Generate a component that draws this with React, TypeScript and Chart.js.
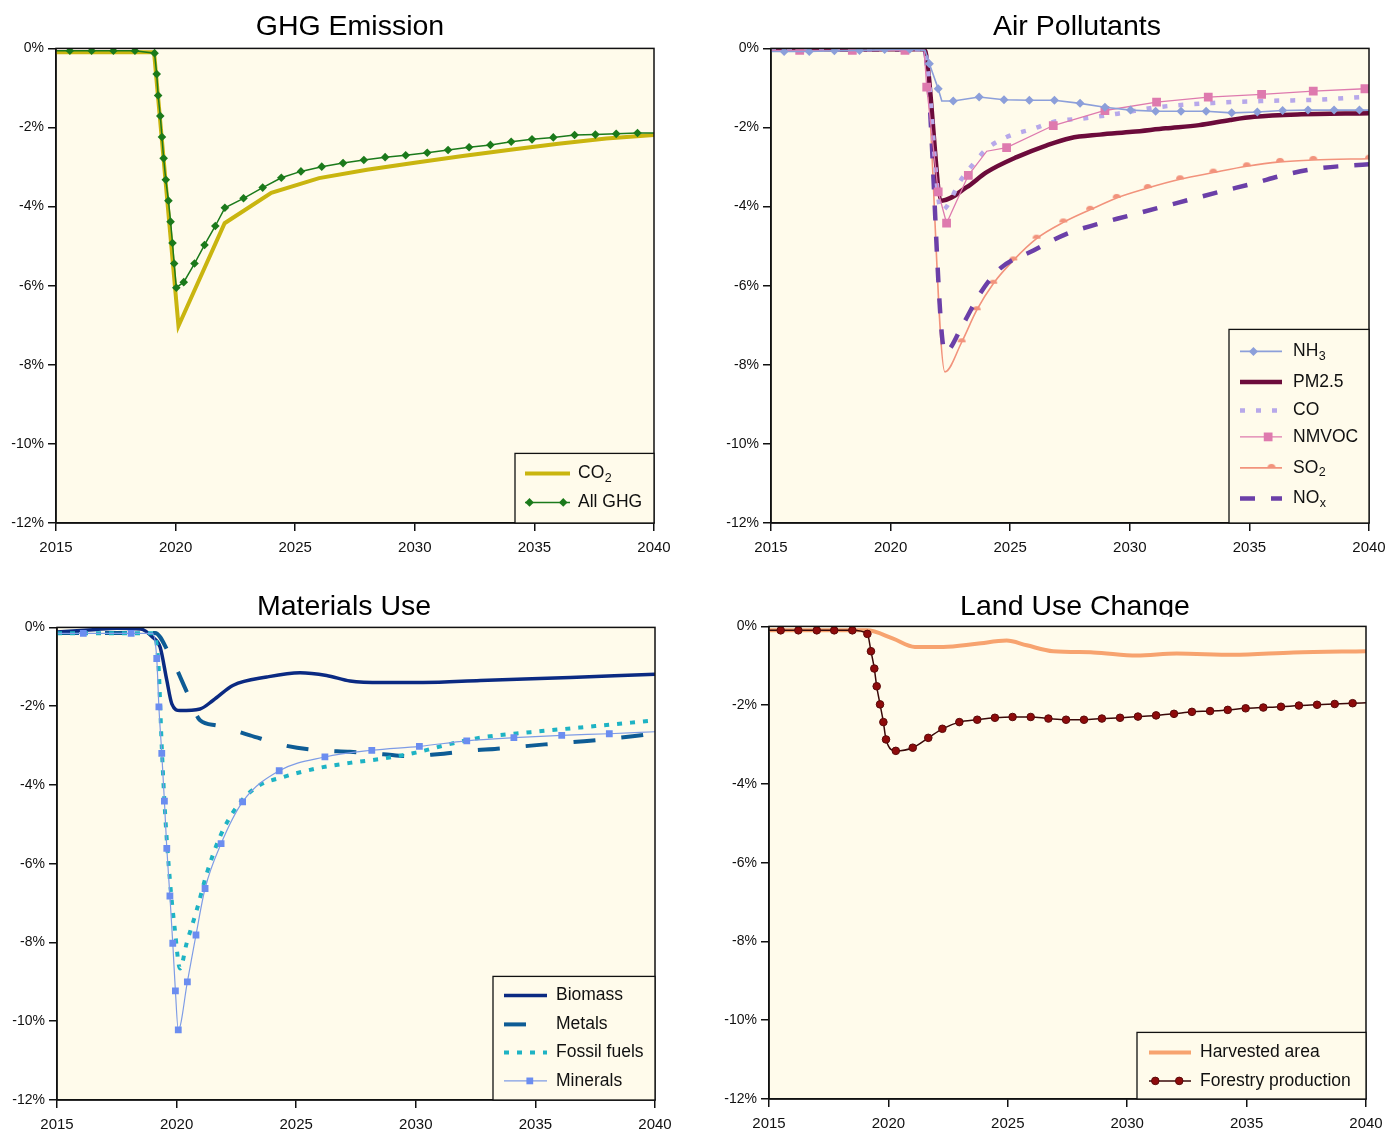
import React, { useEffect, useRef } from 'react';
import { Chart, registerables } from 'chart.js';
Chart.register(...registerables);

const FONT = '"Liberation Sans", Arial, Helvetica, sans-serif';
const CREAM = '#FFFBEB';

// ---------------- GHG Emission ----------------
const co2Years = [2015, 2019.1, 2020.12, 2022.05, 2024.0, 2026.0, 2028.0, 2030.0, 2032.0, 2034.0, 2036.0, 2038.0, 2040.0];
const co2Vals = [-0.1, -0.1, -7.02, -4.42, -3.65, -3.28, -3.07, -2.89, -2.72, -2.56, -2.41, -2.28, -2.19];
const ghgYears = [2015, 2015.58, 2016.49, 2017.4, 2018.3, 2019.12, 2019.21, 2019.27, 2019.36, 2019.43, 2019.5, 2019.59, 2019.7, 2019.79, 2019.87, 2019.94, 2020.03, 2020.34, 2020.79, 2021.21, 2021.66, 2022.06, 2022.84, 2023.64, 2024.42, 2025.24, 2026.11, 2027.0, 2027.87, 2028.76, 2029.62, 2030.52, 2031.39, 2032.27, 2033.16, 2034.03, 2034.9, 2035.79, 2036.68, 2037.55, 2038.42, 2039.31, 2040];
const ghgVals = [-0.06, -0.06, -0.06, -0.06, -0.06, -0.12, -0.65, -1.19, -1.71, -2.24, -2.78, -3.32, -3.85, -4.38, -4.92, -5.44, -6.05, -5.91, -5.44, -4.97, -4.49, -4.03, -3.79, -3.52, -3.27, -3.11, -2.99, -2.9, -2.82, -2.75, -2.7, -2.64, -2.57, -2.5, -2.44, -2.36, -2.3, -2.25, -2.19, -2.18, -2.16, -2.14, -2.14];

// ---------------- Air Pollutants ----------------
const nh3Years = [2015, 2015.55, 2016.6, 2017.65, 2018.7, 2019.75, 2020.8, 2021.44, 2021.62, 2021.99, 2022.14, 2022.62, 2023.7, 2024.74, 2025.8, 2026.85, 2027.92, 2028.96, 2030.03, 2031.08, 2032.14, 2033.19, 2034.26, 2035.33, 2036.39, 2037.45, 2038.54, 2039.6, 2040];
const nh3Vals = [-0.08, -0.08, -0.08, -0.06, -0.05, -0.03, -0.02, -0.05, -0.39, -1.02, -1.33, -1.33, -1.23, -1.3, -1.31, -1.31, -1.39, -1.49, -1.56, -1.59, -1.59, -1.59, -1.63, -1.61, -1.57, -1.56, -1.56, -1.56, -1.56];
const pmYears = [2015, 2021.4, 2022.14, 2023.18, 2024.02, 2025.27, 2026.53, 2027.5, 2028.75, 2030.1, 2031.5, 2032.9, 2034.2, 2035.2, 2037.0, 2040];
const pmVals = [-0.02, -0.02, -3.85, -3.51, -3.13, -2.75, -2.45, -2.27, -2.18, -2.11, -2.02, -1.94, -1.81, -1.73, -1.67, -1.64];
const coYears = [2015, 2021.4, 2022.12, 2022.97, 2023.53, 2024.02, 2024.85, 2025.97, 2026.8, 2028.2, 2029.5, 2031.26, 2033.49, 2035.58, 2037.67, 2040];
const coVals = [-0.02, -0.02, -4.1, -3.3, -2.87, -2.54, -2.24, -2.03, -1.86, -1.76, -1.65, -1.48, -1.38, -1.33, -1.3, -1.22];
const nmvocYears = [2015, 2016.2, 2018.4, 2020.6, 2021.4, 2021.51, 2021.99, 2022.34, 2023.25, 2024.02, 2024.85, 2026.8, 2028.96, 2031.12, 2033.28, 2035.51, 2037.67, 2039.83];
const nmvocVals = [-0.05, -0.05, -0.05, -0.05, -0.02, -0.98, -3.63, -4.42, -3.21, -2.6, -2.51, -1.95, -1.57, -1.36, -1.23, -1.16, -1.08, -1.02];
const so2Years = [2015, 2021.4, 2022.27, 2022.97, 2023.6, 2024.29, 2025.13, 2026.1, 2027.22, 2028.34, 2029.45, 2030.75, 2032.1, 2033.49, 2034.89, 2036.28, 2037.67, 2040];
const so2Vals = [-0.02, -0.02, -8.18, -7.43, -6.62, -5.95, -5.36, -4.81, -4.4, -4.08, -3.78, -3.53, -3.31, -3.14, -2.98, -2.87, -2.82, -2.79];
const noxYears = [2015, 2021.4, 2022.27, 2023.04, 2023.74, 2024.57, 2025.97, 2027.36, 2028.6, 2029.9, 2031.2, 2032.6, 2033.8, 2035.2, 2036.4, 2037.8, 2040];
const noxVals = [-0.02, -0.02, -7.68, -6.96, -6.2, -5.57, -5.11, -4.69, -4.45, -4.24, -4.03, -3.81, -3.62, -3.41, -3.21, -3.04, -2.93];

// ---------------- Materials Use ----------------
const bioYears = [2015, 2016.5, 2017.5, 2018.5, 2019.0, 2019.31, 2019.59, 2019.8, 2020.14, 2020.98, 2021.53, 2022.37, 2023.77, 2025.16, 2026.27, 2027.25, 2028.6, 2030.3, 2032.7, 2035.5, 2038.3, 2040];
const bioVals = [-0.12, -0.06, -0.02, -0.04, -0.25, -0.5, -1.34, -1.94, -2.11, -2.07, -1.85, -1.47, -1.26, -1.15, -1.22, -1.36, -1.4, -1.4, -1.35, -1.29, -1.23, -1.19];
const metYears = [2015, 2019.1, 2019.66, 2020.49, 2020.98, 2021.68, 2023.07, 2024.46, 2025.86, 2027.25, 2028.64, 2029.7, 2030.9, 2032.3, 2033.4, 2035.4, 2037.4, 2039.5, 2040];
const metVals = [-0.14, -0.14, -0.63, -1.72, -2.36, -2.49, -2.74, -2.99, -3.12, -3.16, -3.22, -3.27, -3.22, -3.13, -3.08, -2.97, -2.87, -2.73, -2.68];
const fosYears = [2015, 2019.0, 2019.24, 2019.38, 2019.52, 2019.72, 2019.93, 2020.14, 2020.42, 2020.84, 2021.26, 2021.81, 2022.51, 2023.35, 2024.46, 2025.86, 2027.25, 2028.64, 2030.0, 2031.5, 2032.7, 2034.8, 2036.9, 2040];
const fosVals = [-0.15, -0.15, -0.92, -3.04, -4.73, -6.42, -7.69, -8.66, -8.02, -7.18, -6.25, -5.32, -4.56, -4.05, -3.8, -3.58, -3.44, -3.33, -3.18, -2.95, -2.8, -2.66, -2.54, -2.36];
const minYears = [2015, 2016.1, 2018.1, 2019.0, 2019.17, 2019.26, 2019.38, 2019.49, 2019.59, 2019.72, 2019.84, 2019.95, 2020.07, 2020.45, 2020.81, 2021.19, 2021.86, 2022.76, 2024.29, 2026.2, 2028.16, 2030.15, 2032.13, 2034.1, 2036.1, 2038.09, 2040];
const minVals = [-0.15, -0.15, -0.15, -0.15, -0.79, -2.02, -3.2, -4.41, -5.61, -6.82, -8.02, -9.23, -10.22, -9.0, -7.81, -6.63, -5.49, -4.43, -3.64, -3.29, -3.12, -3.02, -2.88, -2.8, -2.74, -2.7, -2.65];

// ---------------- Land Use Change ----------------
const harvYears = [2015, 2019.09, 2020.2, 2021.11, 2022.3, 2023.7, 2024.95, 2025.79, 2026.9, 2028.58, 2030.4, 2032.07, 2034.44, 2036.96, 2040];
const harvVals = [-0.1, -0.1, -0.31, -0.52, -0.52, -0.44, -0.36, -0.48, -0.63, -0.66, -0.74, -0.69, -0.72, -0.66, -0.63];
const forYears = [2015, 2015.49, 2016.23, 2017.0, 2017.73, 2018.49, 2019.12, 2019.27, 2019.41, 2019.51, 2019.65, 2019.79, 2019.9, 2020.31, 2021.02, 2021.67, 2022.26, 2022.97, 2023.72, 2024.46, 2025.2, 2025.96, 2026.7, 2027.44, 2028.19, 2028.94, 2029.7, 2030.45, 2031.21, 2031.96, 2032.71, 2033.47, 2034.21, 2034.96, 2035.7, 2036.44, 2037.19, 2037.95, 2038.69, 2039.44, 2040];
const forVals = [-0.1, -0.1, -0.1, -0.1, -0.1, -0.1, -0.19, -0.63, -1.07, -1.52, -1.98, -2.43, -2.87, -3.16, -3.08, -2.83, -2.6, -2.43, -2.37, -2.32, -2.3, -2.3, -2.34, -2.37, -2.37, -2.34, -2.32, -2.29, -2.26, -2.22, -2.17, -2.15, -2.12, -2.08, -2.06, -2.04, -2.01, -1.99, -1.97, -1.95, -1.94];

const yTicks = [-12, -10, -8, -6, -4, -2, 0];
const xTicks = [2015, 2020, 2025, 2030, 2035, 2040];

// ---------------- helpers ----------------
const pts = (xs: number[], ys: number[]) => xs.map((x, i) => ({ x, y: ys[i] }));
const hide = (r: number, hidden: number[]) => (ctx: any) => {
  const n = ctx.dataset.data.length;
  const i = ctx.dataIndex;
  return hidden.some((h) => (h < 0 ? n + h : h) === i) ? 0 : r;
};

function semicircle(color: string, r: number) {
  const c = document.createElement('canvas');
  c.width = 2 * r + 2;
  c.height = 2 * r + 2;
  const g = c.getContext('2d')!;
  g.fillStyle = color;
  g.beginPath();
  g.arc(r + 1, r + 1, r, Math.PI, 2 * Math.PI);
  g.closePath();
  g.fill();
  return c;
}

const SO2C = '#F2937C';
const so2Mark = semicircle(SO2C, 4);

type LegendItem = { ds: number; text: string; sub?: string; marks?: number[]; mr?: number };
type PanelSpec = {
  title: string; titleX: number; titleY: number; titleClip?: number;
  L: number; T: number; R: number; B: number;
  datasets: any[];
  legend: { left: number; top: number; rows: number[]; sx0: number; sx1: number; tx: number; items: LegendItem[] };
};

function drawMarker(ctx: CanvasRenderingContext2D, style: any, x: number, y: number, r: number, fill: string, stroke: string, bw: number) {
  ctx.save();
  ctx.setLineDash([]);
  if (style instanceof HTMLCanvasElement) {
    ctx.drawImage(style, x - style.width / 2, y - style.height / 2);
    ctx.restore();
    return;
  }
  ctx.fillStyle = fill;
  ctx.strokeStyle = stroke;
  ctx.lineWidth = bw;
  ctx.beginPath();
  if (style === 'rectRot') {
    ctx.moveTo(x - r, y); ctx.lineTo(x, y - r); ctx.lineTo(x + r, y); ctx.lineTo(x, y + r); ctx.closePath();
  } else if (style === 'rect') {
    const s = r * Math.SQRT1_2;
    ctx.rect(x - s, y - s, 2 * s, 2 * s);
  } else {
    ctx.arc(x, y, r, 0, Math.PI * 2);
  }
  ctx.fill();
  if (bw > 0) ctx.stroke();
  ctx.restore();
}

const framePlugin = (spec: PanelSpec) => ({
  id: 'frameLegend',
  beforeDraw(chart: any) {
    const { ctx, chartArea: a } = chart;
    ctx.save();
    ctx.fillStyle = CREAM;
    ctx.fillRect(a.left, a.top, a.right - a.left, a.bottom - a.top);
    ctx.restore();
  },
  afterDraw(chart: any) {
    const { ctx, chartArea: a } = chart;
    const ox = a.left - spec.L;
    const oy = a.top - spec.T;
    ctx.save();
    ctx.strokeStyle = '#111';
    ctx.lineWidth = 1.5;
    ctx.strokeRect(a.left, a.top, a.right - a.left, a.bottom - a.top);
    const lg = spec.legend;
    const bx = lg.left + ox, by = lg.top + oy;
    ctx.fillStyle = CREAM;
    ctx.fillRect(bx, by, a.right - bx, a.bottom - by);
    ctx.lineWidth = 1.3;
    ctx.strokeRect(bx, by, a.right - bx, a.bottom - by);
    lg.items.forEach((it, k) => {
      const ds = chart.data.datasets[it.ds];
      const y = lg.rows[k] + oy;
      const x0 = lg.sx0 + ox, x1 = lg.sx1 + ox;
      ctx.save();
      ctx.strokeStyle = ds.borderColor;
      ctx.lineWidth = ds.borderWidth;
      ctx.setLineDash(ds.borderDash || []);
      ctx.lineCap = ds.borderCapStyle || 'butt';
      ctx.beginPath();
      ctx.moveTo(x0, y);
      ctx.lineTo(x1, y);
      ctx.stroke();
      ctx.restore();
      (it.marks || []).forEach((f) => {
        drawMarker(ctx, ds.pointStyle, x0 + (x1 - x0) * f, y, it.mr || 4, ds.pointBackgroundColor, ds.pointBorderColor, ds.pointBorderWidth || 0);
      });
      ctx.fillStyle = '#111';
      ctx.textBaseline = 'middle';
      ctx.textAlign = 'left';
      ctx.font = `17.5px ${FONT}`;
      const tx = lg.tx + ox;
      ctx.fillText(it.text, tx, y);
      if (it.sub) {
        const w = ctx.measureText(it.text).width;
        ctx.font = `12.5px ${FONT}`;
        ctx.fillText(it.sub, tx + w + 0.5, y + 5);
      }
    });
    ctx.restore();
  },
});

// ---------------- panel specs ----------------
const panels: PanelSpec[] = [
  {
    title: 'GHG Emission', titleX: 350, titleY: 25,
    L: 56, T: 48, R: 654, B: 523,
    datasets: [
      { label: 'All GHG', data: pts(ghgYears, ghgVals), borderColor: '#1B7A1B', borderWidth: 1.5, pointStyle: 'rectRot', pointRadius: hide(4.3, [0, -1]), pointBackgroundColor: '#1B7A1B', pointBorderColor: '#1B7A1B', pointBorderWidth: 0, order: 1 },
      { label: 'CO2', data: pts(co2Years, co2Vals), borderColor: '#C9B50F', borderWidth: 4, pointRadius: 0, order: 2 },
    ],
    legend: {
      left: 515, top: 453, rows: [473, 502], sx0: 525, sx1: 570, tx: 578,
      items: [
        { ds: 1, text: 'CO', sub: '2' },
        { ds: 0, text: 'All GHG', marks: [0.1, 0.85], mr: 4.3 },
      ],
    },
  },
  {
    title: 'Air Pollutants', titleX: 1077, titleY: 25,
    L: 771, T: 48, R: 1369, B: 523,
    datasets: [
      { label: 'NH3', data: pts(nh3Years, nh3Vals), borderColor: '#8C9FDA', borderWidth: 1.6, pointStyle: 'rectRot', pointRadius: hide(4.5, [0, 7, 10, -1]), pointBackgroundColor: '#8C9FDA', pointBorderColor: '#8C9FDA', pointBorderWidth: 0, order: 1 },
      { label: 'PM2.5', data: pts(pmYears, pmVals), borderColor: '#6C0B3B', borderWidth: 4.5, pointRadius: 0, cubicInterpolationMode: 'monotone', order: 4 },
      { label: 'CO', data: pts(coYears, coVals), borderColor: '#B7A8EA', borderWidth: 4.5, borderDash: [5, 11], pointRadius: 0, cubicInterpolationMode: 'monotone', order: 3 },
      { label: 'NMVOC', data: pts(nmvocYears, nmvocVals), borderColor: '#DE7AAE', borderWidth: 1.3, pointStyle: 'rect', pointRadius: hide(6.2, [0, 4, 9]), pointBackgroundColor: '#DE7AAE', pointBorderColor: '#DE7AAE', pointBorderWidth: 0, order: 2 },
      { label: 'SO2', data: pts(so2Years, so2Vals), borderColor: SO2C, borderWidth: 1.6, pointStyle: so2Mark, pointRadius: hide(4, [0, 1, 2]), pointBackgroundColor: SO2C, pointBorderColor: SO2C, cubicInterpolationMode: 'monotone', order: 6 },
      { label: 'NOx', data: pts(noxYears, noxVals), borderColor: '#6B3FA8', borderWidth: 4.5, borderDash: [15, 16], pointRadius: 0, cubicInterpolationMode: 'monotone', order: 5 },
    ],
    legend: {
      left: 1229, top: 329, rows: [351, 381.5, 410, 436.5, 467.5, 498], sx0: 1240, sx1: 1282, tx: 1293,
      items: [
        { ds: 0, text: 'NH', sub: '3', marks: [0.32], mr: 4.5 },
        { ds: 1, text: 'PM2.5' },
        { ds: 2, text: 'CO' },
        { ds: 3, text: 'NMVOC', marks: [0.67], mr: 6.2 },
        { ds: 4, text: 'SO', sub: '2', marks: [0.75] },
        { ds: 5, text: 'NO', sub: 'x' },
      ],
    },
  },
  {
    title: 'Materials Use', titleX: 344, titleY: 604.5,
    L: 57, T: 627, R: 655, B: 1100,
    datasets: [
      { label: 'Biomass', data: pts(bioYears, bioVals), borderColor: '#0B2A82', borderWidth: 3.5, pointRadius: 0, cubicInterpolationMode: 'monotone', order: 3 },
      { label: 'Metals', data: pts(metYears, metVals), borderColor: '#0E5C95', borderWidth: 4, borderDash: [22, 26], pointRadius: 0, cubicInterpolationMode: 'monotone', order: 4 },
      { label: 'Fossil fuels', data: pts(fosYears, fosVals), borderColor: '#1EB3C4', borderWidth: 4, borderDash: [5, 8], pointRadius: 0, cubicInterpolationMode: 'monotone', order: 2 },
      { label: 'Minerals', data: pts(minYears, minVals), borderColor: '#7E9CE6', borderWidth: 1.2, pointStyle: 'rect', pointRadius: hide(4.8, [0, 3, -1]), pointBackgroundColor: '#6B8DF0', pointBorderColor: '#6B8DF0', pointBorderWidth: 0, cubicInterpolationMode: 'monotone', order: 1 },
    ],
    legend: {
      left: 493, top: 976, rows: [995, 1024, 1052, 1080.5], sx0: 504, sx1: 547, tx: 556,
      items: [
        { ds: 0, text: 'Biomass' },
        { ds: 1, text: 'Metals' },
        { ds: 2, text: 'Fossil fuels' },
        { ds: 3, text: 'Minerals', marks: [0.6], mr: 4.8 },
      ],
    },
  },
  {
    title: 'Land Use Change', titleX: 1075, titleY: 604.5, titleClip: 26,
    L: 769, T: 626, R: 1366, B: 1099,
    datasets: [
      { label: 'Harvested area', data: pts(harvYears, harvVals), borderColor: '#F7A36F', borderWidth: 4, pointRadius: 0, cubicInterpolationMode: 'monotone', order: 2 },
      { label: 'Forestry production', data: pts(forYears, forVals), borderColor: '#3A0808', borderWidth: 1.5, pointStyle: 'circle', pointRadius: hide(3.8, [0, -1]), pointBackgroundColor: '#8E0B0B', pointBorderColor: '#5A0A0A', pointBorderWidth: 1, cubicInterpolationMode: 'monotone', order: 1 },
    ],
    legend: {
      left: 1137, top: 1032, rows: [1052, 1080.5], sx0: 1149, sx1: 1191, tx: 1200,
      items: [
        { ds: 0, text: 'Harvested area' },
        { ds: 1, text: 'Forestry production', marks: [0.15, 0.72], mr: 3.8 },
      ],
    },
  },
];

const AW = 60, PT = 12, PR = 28, XH = 40;

function Panel({ spec }: { spec: PanelSpec }) {
  const ref = useRef<HTMLCanvasElement>(null);
  const w = spec.R - spec.L + AW + PR;
  const h = spec.B - spec.T + PT + XH;
  useEffect(() => {
    const axisCommon = {
      grid: { drawOnChartArea: false, drawTicks: true, tickLength: 8, color: '#111', tickColor: '#111', lineWidth: 1.5, tickWidth: 1.5 },
      border: { display: true, color: '#111', width: 1.5 },
    };
    const chart = new Chart(ref.current!, {
      type: 'line',
      data: { datasets: spec.datasets },
      options: {
        responsive: false,
        animation: false,
        events: [],
        layout: { padding: { left: 0, top: PT, right: PR, bottom: 0 } },
        plugins: { legend: { display: false }, tooltip: { enabled: false }, title: { display: false } },
        scales: {
          x: {
            type: 'linear', min: xTicks[0], max: xTicks[xTicks.length - 1],
            afterFit: (s: any) => { s.height = XH; },
            afterBuildTicks: (s: any) => { s.ticks = xTicks.map((v) => ({ value: v })); },
            ticks: { callback: (v: any) => String(v), color: '#111', font: { family: FONT, size: 15 }, padding: 8, maxRotation: 0, autoSkip: false },
            ...axisCommon,
          },
          y: {
            type: 'linear', min: yTicks[0], max: yTicks[yTicks.length - 1],
            afterFit: (s: any) => { s.width = AW; },
            afterBuildTicks: (s: any) => { s.ticks = yTicks.map((v) => ({ value: v })); },
            ticks: { callback: (v: any) => `${v}%`, color: '#111', font: { family: FONT, size: 14 }, padding: 4, autoSkip: false },
            ...axisCommon,
          },
        },
      } as any,
      plugins: [framePlugin(spec)],
    });
    return () => chart.destroy();
  }, []);
  return (
    <>
      <canvas
        ref={ref}
        width={w}
        height={h}
        style={{ position: 'absolute', left: spec.L - AW, top: spec.T - PT, width: w, height: h }}
      />
      <div
        style={{
          position: 'absolute', left: spec.titleX - 250, width: 500, top: spec.titleY - 14,
          height: spec.titleClip ? spec.titleClip : undefined, overflow: spec.titleClip ? 'hidden' : 'visible',
          textAlign: 'center', fontFamily: FONT, fontSize: '28.5px', lineHeight: '28.5px', color: '#000', whiteSpace: 'nowrap',
        }}
      >
        {spec.title}
      </div>
    </>
  );
}

export default function App() {
  return (
    <div style={{ position: 'absolute', left: 0, top: 0, width: 1400, height: 1132, background: '#fff', overflow: 'hidden' }}>
      {panels.map((p, i) => (
        <Panel key={i} spec={p} />
      ))}
    </div>
  );
}
